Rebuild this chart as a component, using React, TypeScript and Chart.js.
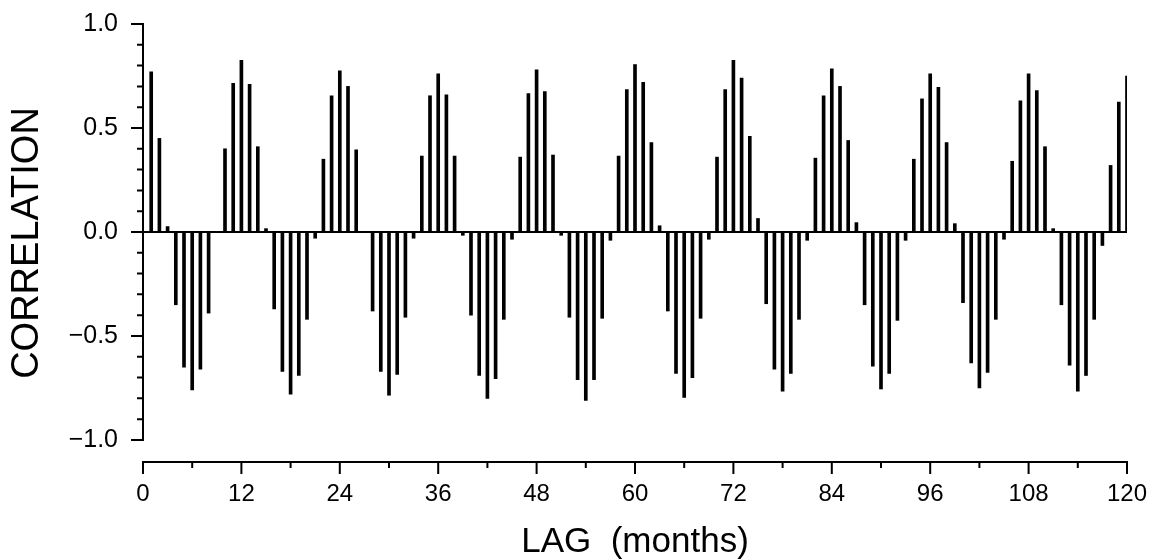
import React, { useEffect, useRef } from "react";
import { Chart, registerables } from "chart.js";

Chart.register(...registerables);

// Autocorrelation at lags 1..120 months
const correlation: number[] = [
  0.77, 0.45, 0.026, -0.35, -0.65, -0.76, -0.66, -0.39, 0.0, 0.4,
  0.715, 0.825, 0.71, 0.41, 0.016, -0.37, -0.67, -0.78, -0.69, -0.42,
  -0.03, 0.35, 0.655, 0.775, 0.7, 0.395, 0.0, -0.38, -0.67, -0.785,
  -0.685, -0.41, -0.03, 0.365, 0.655, 0.76, 0.66, 0.365, -0.016, -0.4,
  -0.69, -0.8, -0.705, -0.42, -0.035, 0.36, 0.665, 0.78, 0.675, 0.37,
  -0.016, -0.41, -0.71, -0.81, -0.71, -0.415, -0.04, 0.365, 0.685, 0.805,
  0.72, 0.43, 0.03, -0.38, -0.68, -0.795, -0.7, -0.415, -0.035, 0.36,
  0.685, 0.825, 0.74, 0.46, 0.065, -0.345, -0.66, -0.765, -0.68, -0.42,
  -0.04, 0.355, 0.655, 0.785, 0.7, 0.44, 0.045, -0.35, -0.645, -0.755,
  -0.68, -0.425, -0.04, 0.35, 0.64, 0.76, 0.695, 0.43, 0.04, -0.34,
  -0.63, -0.75, -0.675, -0.42, -0.035, 0.34, 0.63, 0.76, 0.68, 0.41,
  0.016, -0.35, -0.64, -0.765, -0.69, -0.42, -0.065, 0.32, 0.625, 0.75,
];

const xTickValues: number[] = [0, 12, 24, 36, 48, 60, 72, 84, 96, 108, 120];
const yTickValues: number[] = [-1.0, -0.5, 0.0, 0.5, 1.0];
const xTitle = "LAG  (months)";
const yTitle = "CORRELATION";

const FONT = "'Liberation Sans', Arial, sans-serif";

const axesPlugin = {
  id: "paperAxes",
  afterDatasetsDraw(chart: any) {
    const { ctx, chartArea } = chart;
    const x = chart.scales.x;
    const y = chart.scales.y;
    ctx.save();
    ctx.strokeStyle = "#000";
    ctx.lineCap = "butt";
    ctx.lineWidth = 2;
    // Y spine with ticks (0.1 minor, 0.5 major)
    const yx = x.getPixelForValue(0);
    ctx.beginPath();
    ctx.moveTo(yx, y.getPixelForValue(1.0) - 1);
    ctx.lineTo(yx, y.getPixelForValue(-1.0) + 1);
    for (let k = -10; k <= 10; k++) {
      const py = y.getPixelForValue(k / 10);
      const len = k % 5 === 0 ? 12 : 6;
      ctx.moveTo(yx, py);
      ctx.lineTo(yx - len, py);
    }
    ctx.stroke();
    // X spine with ticks (6 minor, 12 major)
    const xy = chartArea.bottom;
    ctx.beginPath();
    ctx.moveTo(x.getPixelForValue(0) - 1, xy);
    ctx.lineTo(x.getPixelForValue(120) + 1, xy);
    for (let m = 0; m <= 120; m += 6) {
      const px = x.getPixelForValue(m);
      const len = m % 12 === 0 ? 12 : 6;
      ctx.moveTo(px, xy);
      ctx.lineTo(px, xy + len);
    }
    ctx.stroke();
    // zero line
    ctx.beginPath();
    ctx.moveTo(x.getPixelForValue(0), y.getPixelForValue(0));
    ctx.lineTo(x.getPixelForValue(120), y.getPixelForValue(0));
    ctx.stroke();
    ctx.restore();
  },
};

export default function App() {
  const ref = useRef<HTMLCanvasElement | null>(null);

  useEffect(() => {
    if (!ref.current) return;
    const data = correlation.map((v, i) => ({ x: i + 1, y: v }));
    const chart = new Chart(ref.current, {
      type: "bar",
      data: {
        datasets: [
          {
            data: data as any,
            backgroundColor: "#000",
            borderWidth: 0,
            barThickness: 3,
          },
        ],
      },
      options: {
        animation: false,
        responsive: false,
        devicePixelRatio: 1,
        layout: { padding: { top: 24, right: 25, bottom: 0, left: 0 } },
        plugins: {
          legend: { display: false },
          tooltip: { enabled: false },
        },
        scales: {
          x: {
            type: "linear",
            offset: false,
            min: 0,
            max: 120,
            grid: { display: false, drawTicks: false, offset: false },
            border: { display: false },
            afterBuildTicks: (scale: any) => {
              scale.ticks = xTickValues.map((v) => ({ value: v }));
            },
            afterFit: (scale: any) => {
              scale.height = 98;
              scale.paddingLeft = 0;
              scale.paddingRight = 0;
            },
            ticks: {
              color: "#000",
              padding: 18,
              maxRotation: 0,
              autoSkip: false,
              font: { family: FONT, size: 24 },
              callback: (v: any) => String(v),
            },
            title: {
              display: true,
              text: xTitle,
              color: "#000",
              font: { family: FONT, size: 35, lineHeight: 1 },
              padding: { top: 0, bottom: 0 },
            },
          },
          y: {
            type: "linear",
            min: -1.106,
            max: 1.0,
            grid: { display: false, drawTicks: false },
            border: { display: false },
            afterBuildTicks: (scale: any) => {
              scale.ticks = yTickValues.map((v) => ({ value: v }));
            },
            afterFit: (scale: any) => {
              scale.width = 143;
              scale.paddingTop = 0;
              scale.paddingBottom = 0;
            },
            ticks: {
              color: "#000",
              padding: 25,
              autoSkip: false,
              font: { family: FONT, size: 25 },
              callback: (v: any) => {
                const n = Number(v);
                const s = Math.abs(n).toFixed(1);
                return n < 0 ? "\u2212" + s : s;
              },
            },
            title: {
              display: true,
              text: yTitle,
              color: "#000",
              font: { family: FONT, size: 38, lineHeight: 1 },
              padding: { top: 9, bottom: 0 },
            },
          },
        },
      },
      plugins: [axesPlugin],
    });
    return () => chart.destroy();
  }, []);

  return (
    <div style={{ position: "fixed", left: 0, top: 0, width: 1152, height: 560, background: "#fff" }}>
      <canvas ref={ref} width={1152} height={560} style={{ width: 1152, height: 560 }} />
    </div>
  );
}
